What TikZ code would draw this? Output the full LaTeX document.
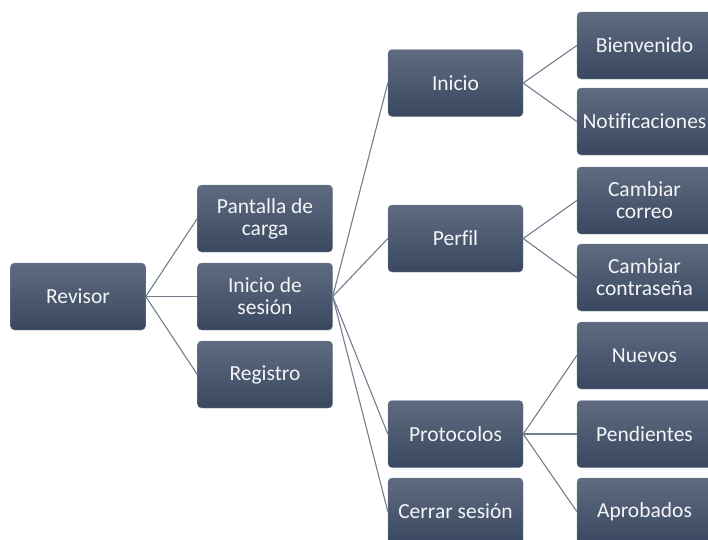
\documentclass[tikz,border=0pt]{standalone}
\usepackage{fontspec}
\setmainfont{Carlito}[Ligatures=NoCommon]
\definecolor{boxtop}{HTML}{5F6B80}
\definecolor{boxbot}{HTML}{394860}
\definecolor{boxedge}{HTML}{7A8596}
\definecolor{linkcol}{HTML}{737D8D}
\definecolor{labelcol}{HTML}{F4F5F7}
\tikzset{
  box/.style={rectangle, rounded corners=4pt, minimum width=135pt, minimum height=67pt,
    inner sep=0pt, top color=boxtop, bottom color=boxbot, draw=boxedge, line width=0.4pt,
    text=labelcol, align=center, font=\fontsize{21.5pt}{22pt}\selectfont},
  link/.style={draw=linkcol, line width=1.1pt}
}
\begin{document}
\begin{tikzpicture}[x=1pt, y=-1pt]
\useasboundingbox (0,0) rectangle (708,539);
\clip (0,0) rectangle (708,539);
% level 0
\node[box] (rev)  at (78,296.5)   {Revisor};
% level 1
\node[box] (pant) at (265,218.5)  {Pantalla de\\carga};
\node[box] (ises) at (265,296.5)  {Inicio de\\sesión};
\node[box] (reg)  at (265,374.5)  {Registro};
% level 2
\node[box] (ini)  at (455.5,83)   {Inicio};
\node[box] (perf) at (455.5,238.5){Perfil};
\node[box] (prot) at (455.5,434)  {Protocolos};
\node[box] (cerr) at (455.5,511.5){Cerrar sesión};
% level 3
\node[box] (bien) at (644.5,45.5) {Bienvenido};
\node[box] (noti) at (644.5,121.5){Notificaciones};
\node[box] (ccor) at (644.5,200.5){Cambiar\\correo};
\node[box] (ccon) at (644.5,277.5){Cambiar\\contraseña};
\node[box] (nuev) at (644.5,355.5){Nuevos};
\node[box] (pend) at (644.5,434)  {Pendientes};
\node[box] (apro) at (644.5,511.5){Aprobados};
% connectors
\foreach \c in {pant,ises,reg} \draw[link] (rev.east) -- (\c.west);
\foreach \c in {ini,perf,prot,cerr} \draw[link] (ises.east) -- (\c.west);
\foreach \c in {bien,noti} \draw[link] (ini.east) -- (\c.west);
\foreach \c in {ccor,ccon} \draw[link] (perf.east) -- (\c.west);
\foreach \c in {nuev,pend,apro} \draw[link] (prot.east) -- (\c.west);
\end{tikzpicture}
\end{document}
